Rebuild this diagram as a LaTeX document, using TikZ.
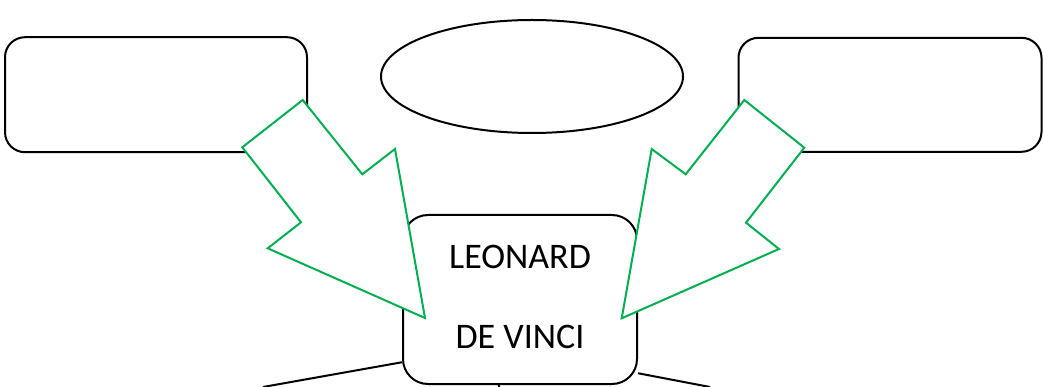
\documentclass[tikz,border=0pt]{standalone}
\usepackage{fontspec}
\setmainfont{Carlito}
\usepackage{xcolor}
\usetikzlibrary{shapes.geometric,
	positioning}
\definecolor{arrgreen}{RGB}{0,176,80}
\tikzstyle{bx}=[draw, line width=2pt, rounded corners=20pt, inner sep=0]
\tikzstyle{ov}=[draw, ellipse, line width=2pt, inner sep=0]
\tikzstyle{ar}=[draw=arrgreen, fill=white, line width=2pt, line join=miter]
\tikzstyle{ln}=[draw, line width=2pt]

\begin{document}
\begin{tikzpicture}[x=1pt, y=-1pt]
            \useasboundingbox (0,0) rectangle (1043,387);
            \node[bx, minimum width=302pt, minimum height=115pt] (lbox) at (156,94.7) {};
            \node[bx, minimum width=303pt, minimum height=114pt] (rbox) at (890,94.8) {};
            \node[ov, minimum width=302pt, minimum height=113pt] (oval) at (532,76.5) {};
            \node[bx, rounded corners=25pt, minimum width=234pt, minimum height=169pt,
                align=center, font=\fontsize{36}{80}\selectfont] (leo) at (520,299.5) {LEONARD\\DE VINCI\\[-74pt]};
            \draw[ar] (302.7,100) -- (362.3,174.3) -- (395,149) -- (425,318) -- (267.7,248.3) -- (301,222.3) -- (242.3,147.3) -- cycle;
            \draw[ar] (744.3,100) -- (804.3,147.7) -- (746,222.7) -- (779,249) -- (621.7,318.3) -- (651.7,149) -- (685.7,174.3) -- cycle;
            \coordinate (ll) at (263,387);
            \coordinate (lm) at (499.3,387);
            \coordinate (lr) at (710,387);
            \draw[ln] (leo.208) -- (ll);
            \draw[ln] (leo.256) -- (lm);
            \draw[ln] (leo.328) -- (lr);
        \end{tikzpicture}
\end{document}
